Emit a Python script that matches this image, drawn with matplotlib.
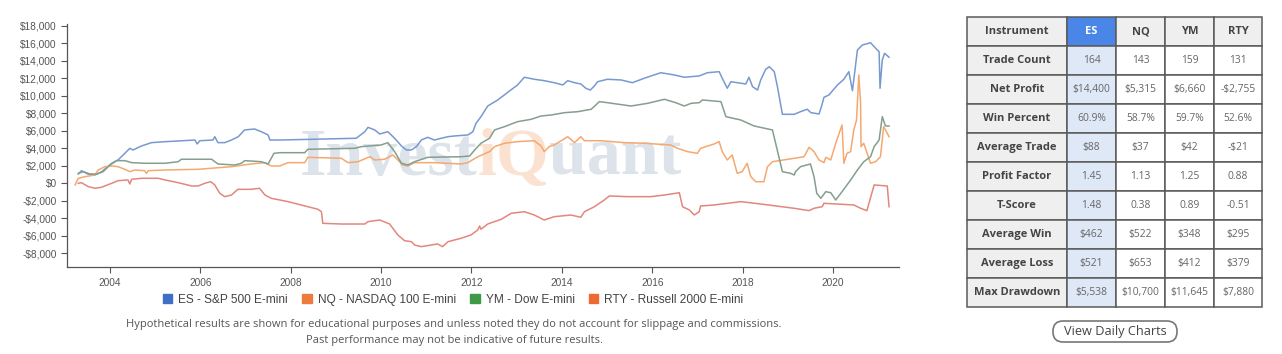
import matplotlib
matplotlib.use("Agg")
import matplotlib.pyplot as plt
from matplotlib.patches import Patch, Rectangle, FancyBboxPatch
from matplotlib.ticker import FuncFormatter

# ---- equity curves (decimal year, cumulative profit in $) ----
es_years = [2003.30, 2003.37, 2003.51, 2003.67, 2003.82, 2004.04, 2004.18, 2004.33, 2004.44, 2004.51,
            2004.70, 2004.92, 2005.22, 2005.51, 2005.88, 2005.93, 2005.99, 2006.28, 2006.32, 2006.39,
            2006.54, 2006.69, 2006.84, 2006.98, 2007.20, 2007.35, 2007.50, 2007.54, 2007.76, 2009.45,
            2009.64, 2009.71, 2009.86, 2009.97, 2010.15, 2010.30, 2010.45, 2010.56, 2010.67, 2010.78,
            2010.89, 2011.03, 2011.18, 2011.33, 2011.48, 2011.62, 2011.92, 2012.03, 2012.10, 2012.21,
            2012.36, 2012.58, 2012.87, 2013.02, 2013.17, 2013.39, 2013.61, 2013.83, 2014.02, 2014.13,
            2014.28, 2014.42, 2014.53, 2014.63, 2014.72, 2014.79, 2015.01, 2015.31, 2015.56, 2015.82,
            2016.19, 2016.49, 2016.71, 2017.04, 2017.22, 2017.48, 2017.55, 2017.66, 2017.74, 2017.88,
            2018.07, 2018.14, 2018.22, 2018.33, 2018.40, 2018.51, 2018.59, 2018.70, 2018.77, 2018.88,
            2019.14, 2019.28, 2019.43, 2019.51, 2019.69, 2019.74, 2019.80, 2019.91, 2019.99, 2020.10,
            2020.24, 2020.35, 2020.43, 2020.54, 2020.65, 2020.83, 2020.98, 2021.02, 2021.04, 2021.09,
            2021.14, 2021.24]
es_pnl = [1060, 1440, 1060, 950, 1330, 2290, 2670, 3430, 4000, 3810,
          4270, 4650, 4760, 4840, 4950, 4500, 4870, 4950, 5330, 4650,
          4650, 4950, 5330, 6100, 6210, 5900, 5530, 4950, 4950, 5150,
          5900, 6400, 6100, 5640, 5900, 5150, 4270, 3810, 3810, 4190,
          4950, 5260, 4950, 5150, 5330, 5410, 5530, 5900, 6860, 7620,
          8840, 9530, 10670, 11250, 12130, 11900, 11740, 11510, 11250, 11740,
          11510, 11360, 10870, 10670, 11130, 11620, 11900, 11820, 11510, 12010,
          12650, 12390, 12130, 12280, 12650, 12770, 12010, 10870, 11620, 11510,
          11360, 12130, 11050, 10670, 11820, 13040, 13340, 12770, 11050, 7890,
          7890, 8190, 8470, 8080, 7930, 8690, 9840, 10100, 10590, 11250,
          11900, 12770, 10590, 15250, 15820, 16080, 15250, 15050, 10870, 14100,
          14870, 14420]

nq_years = [2003.23, 2003.30, 2003.45, 2003.67, 2003.74, 2003.89, 2004.04, 2004.18, 2004.33, 2004.44,
            2004.55, 2004.77, 2004.81, 2004.85, 2005.22, 2005.95, 2006.69, 2007.13, 2007.43, 2007.57,
            2007.76, 2007.94, 2008.31, 2008.38, 2009.12, 2009.27, 2009.49, 2009.75, 2009.86, 2010.08,
            2010.26, 2010.37, 2010.48, 2010.59, 2010.74, 2011.18, 2011.77, 2011.92, 2012.14, 2012.40,
            2012.51, 2012.73, 2013.02, 2013.39, 2013.54, 2013.61, 2013.72, 2013.83, 2014.13, 2014.28,
            2014.42, 2014.50, 2014.86, 2015.38, 2015.82, 2016.41, 2016.56, 2016.78, 2017.00, 2017.07,
            2017.37, 2017.48, 2017.55, 2017.66, 2017.77, 2017.88, 2017.99, 2018.10, 2018.18, 2018.29,
            2018.47, 2018.55, 2018.66, 2019.14, 2019.36, 2019.47, 2019.58, 2019.69, 2019.80, 2019.84,
            2019.95, 2020.06, 2020.20, 2020.24, 2020.31, 2020.39, 2020.46, 2020.52, 2020.57, 2020.61,
            2020.62, 2020.68, 2020.83, 2020.94, 2021.05, 2021.12, 2021.16, 2021.24]
nq_pnl = [-190, 570, 760, 950, 1520, 1900, 1980, 1900, 1600, 1330,
          1520, 1440, 1140, 1440, 1520, 1600, 1900, 2210, 2360, 1980,
          1980, 2360, 2360, 2970, 2860, 2360, 2470, 3040, 2670, 2750,
          3240, 2670, 2090, 1980, 2360, 2360, 2210, 2360, 3040, 3620,
          4190, 4580, 4760, 4870, 4270, 3620, 4190, 4380, 5330, 4650,
          5330, 4870, 4870, 4650, 4580, 4380, 4000, 3620, 3430, 4000,
          4500, 4760, 3620, 2670, 3240, 1140, 1330, 2290, 760, 180,
          180, 1900, 2470, 2860, 3040, 4120, 3620, 2670, 2360, 2970,
          2670, 4580, 6670, 2290, 3430, 3620, 6100, 7240, 12390, 9150,
          4190, 4580, 2290, 2470, 3040, 6480, 6100, 5330]

ym_years = [2003.30, 2003.41, 2003.56, 2003.71, 2003.85, 2004.00, 2004.15, 2004.33, 2004.48, 2004.77,
            2005.22, 2005.51, 2005.58, 2006.25, 2006.39, 2006.76, 2006.91, 2006.98, 2007.35, 2007.50,
            2007.63, 2007.76, 2008.31, 2008.38, 2009.41, 2009.56, 2010.00, 2010.15, 2010.30, 2010.45,
            2010.59, 2010.74, 2011.03, 2011.77, 2011.96, 2012.07, 2012.21, 2012.40, 2012.51, 2012.73,
            2013.02, 2013.32, 2013.54, 2013.76, 2014.06, 2014.35, 2014.65, 2014.83, 2015.01, 2015.53,
            2015.90, 2016.27, 2016.52, 2016.71, 2016.86, 2017.04, 2017.11, 2017.52, 2017.63, 2017.96,
            2018.25, 2018.66, 2018.88, 2019.06, 2019.14, 2019.17, 2019.28, 2019.50, 2019.58, 2019.64,
            2019.73, 2019.84, 2019.95, 2020.06, 2020.20, 2020.39, 2020.54, 2020.68, 2020.83, 2020.91,
            2021.02, 2021.09, 2021.16, 2021.24]
ym_pnl = [1140, 1330, 1060, 1060, 1330, 2090, 2590, 2590, 2360, 2290,
          2290, 2470, 2750, 2750, 2210, 2090, 2290, 2590, 2470, 2210,
          3430, 3500, 3500, 3890, 4000, 4190, 4380, 4650, 3620, 2290,
          2090, 2470, 2970, 3040, 3120, 3810, 4580, 5150, 6100, 6480,
          7050, 7320, 7700, 7810, 8080, 8190, 8470, 9340, 9220, 8840,
          9150, 9610, 9220, 8840, 9150, 9220, 9530, 9340, 7620, 7240,
          6560, 6100, 1330, 1140, 950, 1330, 1900, 2210, 760, -1140,
          -1720, -960, -1080, -1910, -960, 380, 1520, 2470, 3040, 4190,
          4950, 7620, 6560, 6560]

rty_years = [2003.30, 2003.37, 2003.52, 2003.67, 2003.81, 2004.04, 2004.18, 2004.40, 2004.44, 2004.48,
             2004.70, 2005.07, 2005.22, 2005.51, 2005.81, 2005.95, 2006.10, 2006.23, 2006.32, 2006.43,
             2006.54, 2006.69, 2006.83, 2007.13, 2007.31, 2007.43, 2007.57, 2007.76, 2007.94, 2008.60,
             2008.68, 2008.71, 2009.12, 2009.64, 2009.71, 2009.97, 2010.19, 2010.37, 2010.52, 2010.67,
             2010.74, 2010.89, 2011.11, 2011.25, 2011.36, 2011.48, 2011.77, 2011.99, 2012.14, 2012.18,
             2012.21, 2012.36, 2012.44, 2012.66, 2012.88, 2013.17, 2013.39, 2013.61, 2013.83, 2014.20,
             2014.42, 2014.50, 2014.72, 2014.94, 2015.05, 2015.45, 2015.97, 2016.27, 2016.60, 2016.67,
             2016.82, 2016.93, 2017.04, 2017.07, 2017.37, 2017.96, 2018.40, 2019.14, 2019.47, 2019.58,
             2019.76, 2019.80, 2020.46, 2020.61, 2020.75, 2020.91, 2021.20, 2021.24]
rty_pnl = [0, 70, -380, -570, -460, 0, 300, 380, -80, 460,
           570, 570, 380, 70, -310, -310, 0, 180, -190, -1140,
           -1530, -1340, -690, -690, -570, -1340, -1720, -1910, -2100, -2970,
           -3250, -4580, -4660, -4660, -4390, -4200, -4660, -5910, -6570, -6680,
           -7060, -7250, -7060, -6940, -7250, -6680, -6290, -5910, -5340, -4880,
           -5260, -4660, -4510, -4120, -3430, -3250, -3630, -4200, -3820, -3630,
           -3890, -3250, -2680, -1910, -1450, -1530, -1530, -1340, -1080, -2680,
           -3050, -3630, -3250, -2600, -2480, -2100, -2370, -2860, -3130, -2860,
           -2680, -2290, -2480, -2860, -3130, -190, -310, -2680]

series_labels = ["ES - S&P 500 E-mini", "NQ - NASDAQ 100 E-mini", "YM - Dow E-mini", "RTY - Russell 2000 E-mini"]
line_colors = ["#7899d0", "#f5a870", "#849f8d", "#e2877d"]
legend_colors = ["#3f6fc6", "#ee7a3e", "#3d9a46", "#ee6a30"]

# ---- stats table ----
instruments = ["ES", "NQ", "YM", "RTY"]
stat_names = ["Trade Count", "Net Profit", "Win Percent", "Average Trade", "Profit Factor",
              "T-Score", "Average Win", "Average Loss", "Max Drawdown"]
es_stats = ["164", "$14,400", "60.9%", "$88", "1.45", "1.48", "$462", "$521", "$5,538"]
nq_stats = ["143", "$5,315", "58.7%", "$37", "1.13", "0.38", "$522", "$653", "$10,700"]
ym_stats = ["159", "$6,660", "59.7%", "$42", "1.25", "0.89", "$348", "$412", "$11,645"]
rty_stats = ["131", "-$2,755", "52.6%", "-$21", "0.88", "-0.51", "$295", "$379", "$7,880"]

W, H = 1282, 354
fig = plt.figure(figsize=(W / 100, H / 100), dpi=100)
fig.patch.set_facecolor("white")

# watermark sits behind the chart axes
wm_parts = [("Invest", "#dce3ea"), ("iQ", "#fbe2d0"), ("uant", "#dce3ea")]
fig.canvas.draw()
renderer = fig.canvas.get_renderer()
x0 = 300
for txt, col in wm_parts:
    t = fig.text(x0 / W, 1 - 175 / H, txt, fontsize=49, fontweight="bold",
                 family="Liberation Serif", color=col, ha="left", va="baseline", zorder=0)
    x0 += t.get_window_extent(renderer).width

# ---- equity chart ----
ax = fig.add_axes([67 / W, 1 - 267.2 / H, 832 / W, (267.2 - 24.2) / H], zorder=2)
ax.patch.set_alpha(0)
for yrs, vals, c in zip([es_years, nq_years, ym_years, rty_years],
                        [es_pnl, nq_pnl, ym_pnl, rty_pnl], line_colors):
    ax.plot(yrs, vals, color=c, lw=1.1, zorder=3)

ax.set_xlim(2003.05, 2021.46)
ax.set_ylim(-9600, 18200)
ax.set_xticks(range(2004, 2021, 2))
ax.set_yticks(range(-8000, 18001, 2000))
ax.yaxis.set_major_formatter(FuncFormatter(lambda v, p: ("-$" if v < 0 else "$") + f"{abs(int(v)):,}"))
ax.tick_params(labelsize=7.3, colors="#555555", length=4, width=0.8)
for s in ["top", "right"]:
    ax.spines[s].set_visible(False)
for s in ["left", "bottom"]:
    ax.spines[s].set_color("#555555")
    ax.spines[s].set_linewidth(0.9)
for lbl in ax.get_xticklabels() + ax.get_yticklabels():
    lbl.set_fontfamily("Liberation Sans")

# legend
handles = [Patch(facecolor=c, edgecolor=c) for c in legend_colors]
fig.legend(handles, series_labels, loc="center", bbox_to_anchor=(453 / W, 1 - 300 / H), ncol=4,
           frameon=False, prop={"family": "Liberation Sans", "size": 8.6},
           handlelength=0.8, handleheight=0.8, handletextpad=0.5, columnspacing=1.2)
for t in fig.legends[0].get_texts():
    t.set_color("#444444")

fig.text(454 / W, 1 - 325 / H,
         "Hypothetical results are shown for educational purposes and unless noted they do not account for slippage and commissions.",
         ha="center", va="center", fontsize=8, family="Open Sans", color="#555555")
fig.text(454 / W, 1 - 340 / H, "Past performance may not be indicative of future results.",
         ha="center", va="center", fontsize=8, family="Open Sans", color="#555555")

# ---- stats table drawn in pixel space ----
tab = fig.add_axes([0, 0, 1, 1], zorder=5)
tab.set_xlim(0, W)
tab.set_ylim(H, 0)
tab.axis("off")
tab.patch.set_alpha(0)

col_edges = [967, 1067, 1116, 1165, 1214, 1262]
row_top, row_h = 17.3, 28.93
columns = [stat_names, es_stats, nq_stats, ym_stats, rty_stats]
headers = ["Instrument"] + instruments

for ci in range(5):
    xl, xr = col_edges[ci], col_edges[ci + 1]
    xc = (xl + xr) / 2
    for ri in range(10):
        yt = row_top + ri * row_h
        if ri == 0:
            txt = headers[ci]
            face = "#4a86e8" if ci == 1 else "#efefef"
            color = "white" if ci == 1 else "#444444"
            weight, size = "bold", 8.0
        else:
            txt = columns[ci][ri - 1]
            if ci == 0:
                face, color, weight, size = "#efefef", "#444444", "bold", 8.0
            elif ci == 1:
                face, color, weight, size = "#dfe8f7", "#666666", "normal", 7.4
            else:
                face, color, weight, size = "white", "#666666", "normal", 7.4
        tab.add_patch(Rectangle((xl, yt), xr - xl, row_h, facecolor=face,
                                edgecolor="#5a5a5a", lw=1.1))
        tab.text(xc, yt + row_h / 2, txt, ha="center", va="center", fontsize=size,
                 family="Open Sans", fontweight=weight, color=color)

tab.add_patch(FancyBboxPatch((1053, 321), 124, 21, boxstyle="round,pad=0,rounding_size=10",
                             facecolor="white", edgecolor="#777777", lw=1.2))
tab.text(1115, 331.5, "View Daily Charts", ha="center", va="center", fontsize=9.2,
         family="Open Sans", color="#444444")

fig.savefig("out.png", dpi=100, facecolor="white")
